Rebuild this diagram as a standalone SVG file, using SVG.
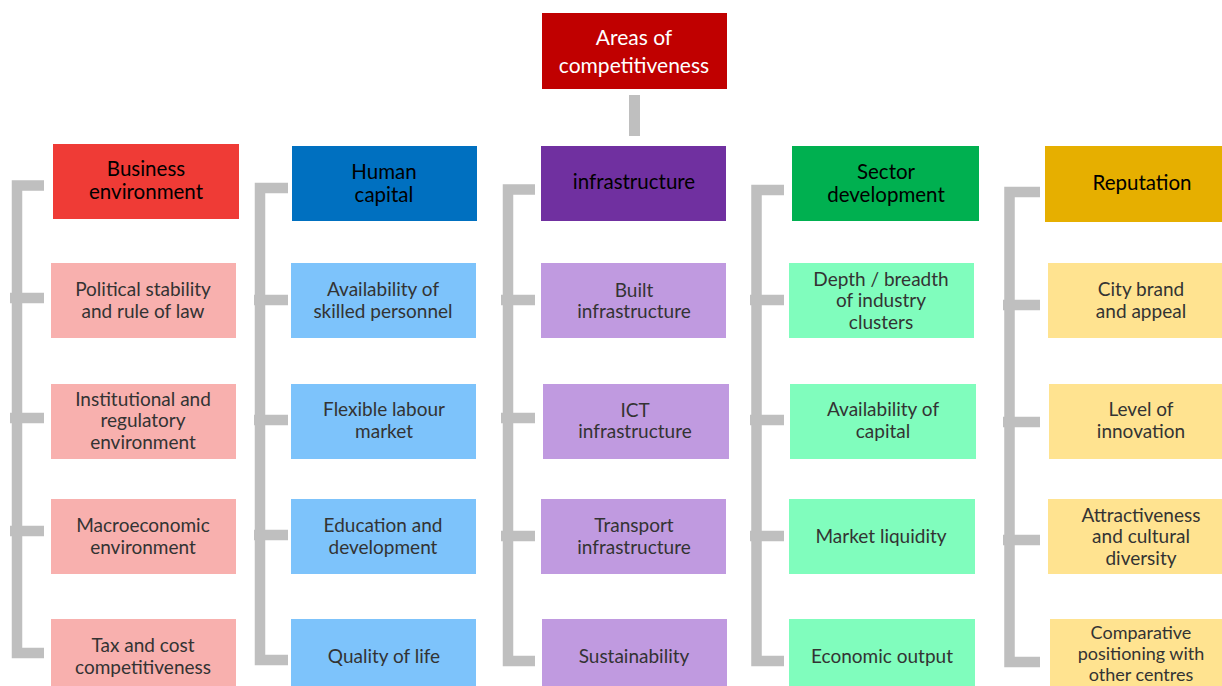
<svg xmlns="http://www.w3.org/2000/svg" width="1222" height="686" viewBox="0 0 1222 686">
<style>
text{font-family:Lato,"Open Sans","Noto Sans",sans-serif;text-anchor:middle;dominant-baseline:central}
.h{font-size:20.5px;fill:#000}
.c{font-size:19px;fill:#333}
.s{font-size:18px}
.t{font-size:21px;fill:#fff}
.br{fill:none;stroke:#BFBFBF;stroke-width:10.5;stroke-linejoin:miter}
</style>
<rect width="1222" height="686" fill="#fff"/>
<g id="connectors">
<rect x="629" y="95" width="11" height="41" fill="#BFBFBF"/>
<path class="br" d="M44 185.5H17V653H44M10 298H44M10 418H44M10 531H44"/>
<path class="br" d="M288 188H260V660H288M254 300H288M254 420H288M254 535H288"/>
<path class="br" d="M535 189.5H508V661H535M501 300H535M501 418H535M501 536H535"/>
<path class="br" d="M784 190H756.5V661H784M750 300H784M750 420H784M750 536H784"/>
<path class="br" d="M1040 192H1009.5V662H1040M1003 305H1040M1003 422H1040M1003 540H1040"/>
</g>
<g id="top"><rect x="542" y="13" width="185" height="76" fill="#C00000"/><text class="t" x="634" y="36">Areas of</text><text class="t" x="634" y="64">competitiveness</text></g>
<g id="business"><rect x="53" y="144" width="186" height="75" fill="#EF3B36"/><text class="h" x="146" y="167.5">Business</text><text class="h" x="146" y="190.5">environment</text></g>
<g id="b1"><rect x="51" y="263" width="185" height="75" fill="#F8B0AE"/><text class="c" x="143" y="288">Political stability</text><text class="c" x="143" y="310">and rule of law</text></g>
<g id="b2"><rect x="51" y="384" width="185" height="75" fill="#F8B0AE"/><text class="c" x="143" y="398">Institutional and</text><text class="c" x="143" y="419">regulatory</text><text class="c" x="143" y="441">environment</text></g>
<g id="b3"><rect x="51" y="499" width="185" height="75" fill="#F8B0AE"/><text class="c" x="143" y="524">Macroeconomic</text><text class="c" x="143" y="546">environment</text></g>
<g id="b4"><rect x="51" y="619" width="185" height="67" fill="#F8B0AE"/><text class="c" x="143" y="644">Tax and cost</text><text class="c" x="143" y="666">competitiveness</text></g>
<g id="human"><rect x="292" y="146" width="185" height="75" fill="#0070C0"/><text class="h" x="384" y="170.5">Human</text><text class="h" x="384" y="193.5">capital</text></g>
<g id="h1"><rect x="291" y="263" width="185" height="75" fill="#7DC3FB"/><text class="c" x="383" y="288">Availability of</text><text class="c" x="383" y="310">skilled personnel</text></g>
<g id="h2"><rect x="291" y="384" width="185" height="75" fill="#7DC3FB"/><text class="c" x="384" y="408">Flexible labour</text><text class="c" x="384" y="430">market</text></g>
<g id="h3"><rect x="291" y="499" width="185" height="75" fill="#7DC3FB"/><text class="c" x="383" y="524">Education and</text><text class="c" x="383" y="546">development</text></g>
<g id="h4"><rect x="291" y="619" width="185" height="67" fill="#7DC3FB"/><text class="c" x="384" y="655">Quality of life</text></g>
<g id="infra"><rect x="541" y="146" width="185" height="75" fill="#7030A0"/><text class="h" x="634" y="181">infrastructure</text></g>
<g id="i1"><rect x="541" y="263" width="185" height="75" fill="#C09AE0"/><text class="c" x="634" y="289">Built</text><text class="c" x="634" y="310">infrastructure</text></g>
<g id="i2"><rect x="543" y="384" width="186" height="75" fill="#C09AE0"/><text class="c" x="635" y="409">ICT</text><text class="c" x="635" y="430">infrastructure</text></g>
<g id="i3"><rect x="541" y="499" width="185" height="75" fill="#C09AE0"/><text class="c" x="634" y="524">Transport</text><text class="c" x="634" y="546">infrastructure</text></g>
<g id="i4"><rect x="542" y="619" width="185" height="67" fill="#C09AE0"/><text class="c" x="634" y="655">Sustainability</text></g>
<g id="sector"><rect x="792" y="146" width="187" height="75" fill="#00B050"/><text class="h" x="886" y="170.5">Sector</text><text class="h" x="886" y="193.5">development</text></g>
<g id="s1"><rect x="789" y="263" width="185" height="75" fill="#80FDBD"/><text class="c" x="881" y="278">Depth / breadth</text><text class="c" x="881" y="299">of industry</text><text class="c" x="881" y="321">clusters</text></g>
<g id="s2"><rect x="790" y="384" width="186" height="75" fill="#80FDBD"/><text class="c" x="883" y="408">Availability of</text><text class="c" x="883" y="430">capital</text></g>
<g id="s3"><rect x="789" y="499" width="186" height="75" fill="#80FDBD"/><text class="c" x="881" y="535">Market liquidity</text></g>
<g id="s4"><rect x="789" y="619" width="186" height="67" fill="#80FDBD"/><text class="c" x="882" y="655">Economic output</text></g>
<g id="reputation"><rect x="1045" y="146" width="177" height="76" fill="#E6AF00"/><text class="h" x="1142" y="182">Reputation</text></g>
<g id="r1"><rect x="1048" y="263" width="174" height="75" fill="#FFE390"/><text class="c" x="1141" y="288">City brand</text><text class="c" x="1141" y="310">and appeal</text></g>
<g id="r2"><rect x="1049" y="384" width="173" height="75" fill="#FFE390"/><text class="c" x="1141" y="408">Level of</text><text class="c" x="1141" y="430">innovation</text></g>
<g id="r3"><rect x="1048" y="499" width="174" height="75" fill="#FFE390"/><text class="c" x="1141" y="514">Attractiveness</text><text class="c" x="1141" y="535">and cultural</text><text class="c" x="1141" y="557">diversity</text></g>
<g id="r4"><rect x="1050" y="619" width="172" height="67" fill="#FFE390"/><text class="c s" x="1141" y="632">Comparative</text><text class="c s" x="1141" y="653">positioning with</text><text class="c s" x="1141" y="674">other centres</text></g>
</svg>
